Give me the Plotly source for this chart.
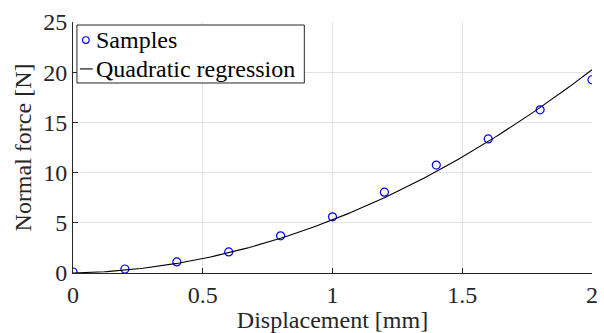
import numpy as np
import plotly.graph_objects as go

# Measured samples
displacement_mm = [0.0, 0.2, 0.4, 0.6, 0.8, 1.0, 1.2, 1.4, 1.6, 1.8, 2.0]
normal_force_n = [0.1, 0.4, 1.1, 2.1, 3.7, 5.6, 8.05, 10.75, 13.35, 16.25, 19.25]

# Quadratic regression coefficients: F = a*d^2 + b*d + c
regression_coeffs = [4.83, 0.46, 0.0]

x_ticks = [0, 0.5, 1, 1.5, 2]
x_tick_text = ["0", "0.5", "1", "1.5", "2"]
y_ticks = [0, 5, 10, 15, 20, 25]
y_tick_text = ["0", "5", "10", "15", "20", "25"]

legend_labels = ["Samples", "Quadratic regression"]

x_fit = np.linspace(0, 2, 201)
y_fit = np.polyval(regression_coeffs, x_fit)

FONT = "Liberation Serif, Times New Roman, serif"
FS = 24
AX = "#262626"
BLUE = "#0000ff"

fig = go.Figure()
fig.add_trace(go.Scatter(
    x=displacement_mm, y=normal_force_n, mode="markers", name=legend_labels[0],
    marker=dict(symbol="circle-open", color=BLUE, size=8,
                line=dict(width=1.2, color=BLUE)),
))
fig.add_trace(go.Scatter(
    x=x_fit, y=y_fit, mode="lines", name=legend_labels[1],
    line=dict(color="black", width=1.1),
))

axis_common = dict(
    showgrid=True, gridcolor="#e3e3e3", gridwidth=1,
    showline=True, linecolor=AX, linewidth=1,
    ticks="inside", ticklen=5, tickcolor=AX,
    zeroline=False, tickfont=dict(family=FONT, size=FS, color=AX),
    mirror=False,
)

fig.update_xaxes(range=[0, 2], tickvals=x_ticks, ticktext=x_tick_text,
                 title=dict(text="Displacement [mm]", standoff=0,
                            font=dict(family=FONT, size=FS, color=AX)),
                 **axis_common)
fig.update_yaxes(range=[0, 25], tickvals=y_ticks, ticktext=y_tick_text,
                 title=dict(text="Normal force [N]", standoff=4,
                            font=dict(family=FONT, size=FS, color=AX)),
                 **axis_common)

# Boxed legend in the upper-left corner of the axes
shapes = [
    dict(type="rect", xref="paper", yref="paper",
         x0=0.0076, x1=0.4457, y0=0.757, y1=0.988,
         line=dict(color=AX, width=1), fillcolor="white", layer="above"),
    dict(type="circle", xref="paper", yref="paper",
         xsizemode="pixel", ysizemode="pixel", xanchor=0.0248, yanchor=0.928,
         x0=-3.3, x1=3.3, y0=-3.3, y1=3.3,
         line=dict(color=BLUE, width=1.2), layer="above"),
    dict(type="line", xref="paper", yref="paper",
         x0=0.0133, x1=0.0381, y0=0.813, y1=0.813,
         line=dict(color="black", width=1.1), layer="above"),
]
annotations = [
    dict(text=legend_labels[0], xref="paper", yref="paper", x=0.0400, y=0.928,
         xanchor="left", yanchor="middle", showarrow=False,
         font=dict(family=FONT, size=FS, color="black")),
    dict(text=legend_labels[1], xref="paper", yref="paper", x=0.0400, y=0.813,
         xanchor="left", yanchor="middle", showarrow=False,
         font=dict(family=FONT, size=FS, color="black")),
]

fig.update_layout(
    width=604, height=333,
    margin=dict(l=73, r=6, t=22, b=60),
    paper_bgcolor="white", plot_bgcolor="white",
    font=dict(family=FONT, size=FS, color="black"),
    showlegend=False,
    shapes=shapes, annotations=annotations,
)

fig.write_html("out.html")
